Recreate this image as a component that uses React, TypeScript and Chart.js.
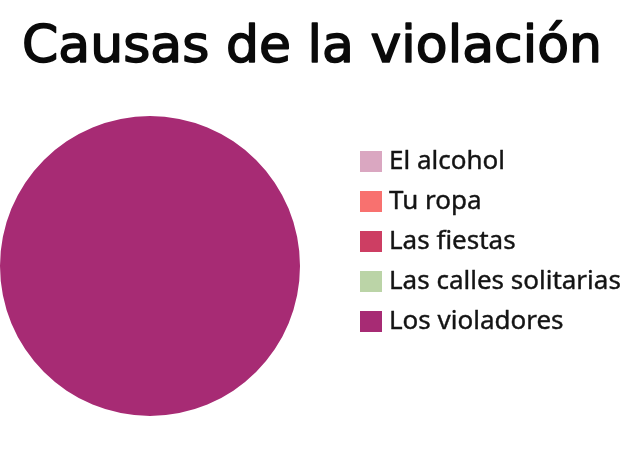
import React, { useEffect, useRef } from "react";
import { Chart, registerables } from "chart.js";

Chart.register(...registerables);

const TITLE = "Causas de la violación";
const CATEGORIES = ["El alcohol", "Tu ropa", "Las fiestas", "Las calles solitarias", "Los violadores"];
const VALUES = [0, 0, 0, 0, 100];
const COLORS = ["#DAA7C1", "#F8716F", "#CD3E63", "#BBD4A7", "#A72B74"];

const titleAndLegend = {
  id: "titleAndLegend",
  afterDraw(chart: any) {
    const ctx = chart.ctx;
    ctx.save();
    // title
    ctx.font = "52px 'DejaVu Sans'";
    ctx.fillStyle = "#0a0a0a";
    ctx.strokeStyle = "#0a0a0a";
    ctx.lineWidth = 1.6;
    ctx.lineJoin = "round";
    ctx.textAlign = "left";
    ctx.textBaseline = "alphabetic";
    const w = ctx.measureText(TITLE).width;
    const extra = (580 - w) / (TITLE.length - 1);
    (ctx as any).letterSpacing = `${extra}px`;
    ctx.fillText(TITLE, 22, 62);
    ctx.strokeText(TITLE, 22, 62);
    (ctx as any).letterSpacing = "0px";

    // legend
    const labels = chart.data.labels as string[];
    const colors = chart.data.datasets[0].backgroundColor as string[];
    const x0 = 360;
    const y0 = 162;
    const step = 40;
    ctx.font = "26px 'Noto Sans'";
    ctx.textAlign = "left";
    ctx.textBaseline = "middle";
    ctx.lineWidth = 0.4;
    labels.forEach((lab, i) => {
      const cy = y0 + i * step;
      ctx.fillStyle = colors[i];
      ctx.fillRect(x0, cy - 11, 22, 21);
      ctx.fillStyle = "#141414";
      ctx.strokeStyle = "#141414";
      ctx.fillText(lab, x0 + 29, cy);
      ctx.strokeText(lab, x0 + 29, cy);
    });
    ctx.restore();
  },
};

export default function App() {
  const ref = useRef<HTMLCanvasElement>(null);
  useEffect(() => {
    if (!ref.current) return;
    const chart = new Chart(ref.current, {
      type: "pie",
      data: {
        labels: CATEGORIES,
        datasets: [
          {
            data: VALUES,
            backgroundColor: COLORS,
            borderWidth: 0,
          },
        ],
      },
      options: {
        responsive: false,
        animation: false,
        layout: { padding: { left: 0, right: 330, top: 115, bottom: 32 } },
        plugins: {
          legend: { display: false },
          tooltip: { enabled: false },
          title: { display: false },
        },
      },
      plugins: [titleAndLegend],
    });
    return () => chart.destroy();
  }, []);
  return (
    <div style={{ position: "absolute", left: 0, top: 0, width: 630, height: 449, background: "#fff" }}>
      <canvas ref={ref} width={630} height={449} style={{ width: 630, height: 449 }} />
    </div>
  );
}
